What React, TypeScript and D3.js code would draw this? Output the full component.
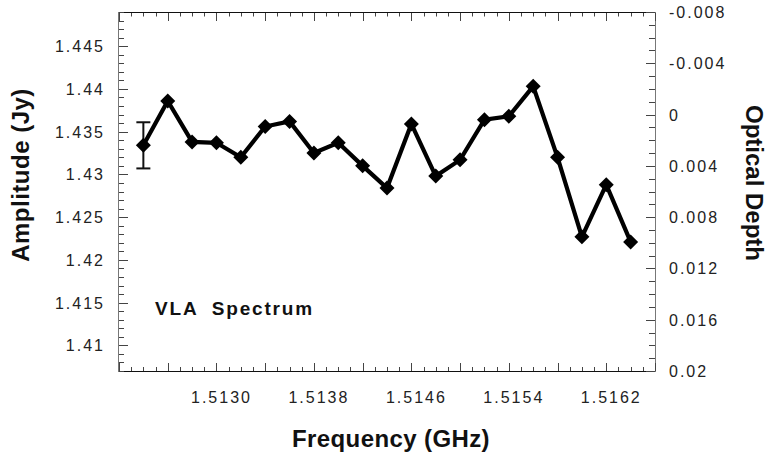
import React from "react";
import * as d3 from "d3";

const frequencies = [
  1.5124, 1.5126, 1.5128, 1.513, 1.5132, 1.5134, 1.5136, 1.5138, 1.514, 1.5142,
  1.5144, 1.5146, 1.5148, 1.515, 1.5152, 1.5154, 1.5156, 1.5158, 1.516, 1.5162,
  1.5164,
];
const amplitudes = [
  1.4334, 1.4386, 1.4338, 1.4337, 1.432, 1.4356, 1.4362, 1.4325, 1.4337, 1.431,
  1.4284, 1.4359, 1.4298, 1.4317, 1.4364, 1.4368, 1.4403, 1.432, 1.4227, 1.4288,
  1.4221,
];
const errorBarIndex = [0];
const errorBarSize = [0.0027];

const leftTicks = [1.41, 1.415, 1.42, 1.425, 1.43, 1.435, 1.44, 1.445];
const leftTickLabels = ["1.41", "1.415", "1.42", "1.425", "1.43", "1.435", "1.44", "1.445"];
const rightTicks = [-0.008, -0.004, 0, 0.004, 0.008, 0.012, 0.016, 0.02];
const rightTickLabels = ["-0.008", "-0.004", "0", "0.004", "0.008", "0.012", "0.016", "0.02"];
const bottomTicks = [1.513, 1.5138, 1.5146, 1.5154, 1.5162];
const bottomTickLabels = ["1.5130", "1.5138", "1.5146", "1.5154", "1.5162"];

const W = 770;
const H = 459;
const L = 119;
const R = 655;
const T = 12;
const B = 371;

const FONT = "'Liberation Sans', Arial, Helvetica, sans-serif";

export default function App() {
  const x = d3.scaleLinear().domain([1.5122, 1.5166]).range([L, R]);
  const y = d3.scaleLinear().domain([1.407, 1.449]).range([B, T]);
  const y2 = d3.scaleLinear().domain([-0.008, 0.02]).range([T, B]);

  const pts: [number, number][] = frequencies.map((f, i) => [x(f), y(amplitudes[i])]);
  const line = d3.line()(pts) || "";

  const leftMinor = d3.range(0, 43).map((k) => 1.407 + k * 0.001);
  const rightMinor = d3.range(0, 29).map((k) => -0.008 + k * 0.001);
  const xMinor = d3.range(0, 45).map((k) => 1.5122 + k * 0.0001);

  const isMajor = (v: number, step: number) => Math.abs(v / step - Math.round(v / step)) < 1e-6;

  const tickColor = "#444";
  const diamond = (cx: number, cy: number, r: number) =>
    `M${cx},${cy - r}L${cx + r},${cy}L${cx},${cy + r}L${cx - r},${cy}Z`;

  return (
    <svg width={W} height={H} style={{ position: "absolute", left: 0, top: 0, background: "#fff" }}>
      <rect x={0} y={0} width={W} height={H} fill="#fff" />
      {/* frame */}
      <line x1={L} y1={T + 0.5} x2={R} y2={T + 0.5} stroke="#111" strokeWidth={1} />
      <line x1={L} y1={B + 0.5} x2={R} y2={B + 0.5} stroke="#111" strokeWidth={1} />
      <line x1={L - 0.5} y1={T} x2={L - 0.5} y2={B + 1} stroke="#777" strokeWidth={1} />
      <line x1={R + 0.5} y1={T} x2={R + 0.5} y2={B + 1} stroke="#777" strokeWidth={1} />

      {/* left ticks */}
      {leftMinor.map((v, i) => {
        const yy = Math.round(y(v)) + 0.5;
        const major = isMajor(v - 1.41, 0.005) && v > 1.408;
        return <line key={"l" + i} x1={L} x2={L + (major ? 9 : 5)} y1={yy} y2={yy} stroke={tickColor} />;
      })}
      {/* right ticks */}
      {rightMinor.map((v, i) => {
        const yy = Math.round(y2(v)) + 0.5;
        const major = isMajor(v, 0.004);
        return <line key={"r" + i} x1={R} x2={R - (major ? 9 : 6)} y1={yy} y2={yy} stroke={tickColor} />;
      })}
      {/* bottom & top ticks */}
      {xMinor.map((v, i) => {
        const xx = Math.round(x(v)) + 0.5;
        const major = isMajor(v - 1.5122, 0.0004);
        return (
          <g key={"x" + i}>
            <line x1={xx} x2={xx} y1={B} y2={B - (major ? 8 : 4)} stroke={tickColor} />
            <line x1={xx} x2={xx} y1={T + 1} y2={T + 1 + (major ? 8 : 3.5)} stroke={tickColor} />
          </g>
        );
      })}

      {/* tick labels */}
      <g fontFamily={FONT} fontSize={16} fill="#222" letterSpacing={2}>
        {leftTicks.map((v, i) => (
          <text key={"lt" + i} x={105} y={y(v) + 6} textAnchor="end">
            {leftTickLabels[i]}
          </text>
        ))}
        {rightTicks.map((v, i) => (
          <text key={"rt" + i} x={669} y={y2(v) + 6} textAnchor="start">
            {rightTickLabels[i]}
          </text>
        ))}
        {bottomTicks.map((v, i) => (
          <text key={"bt" + i} x={x(v) + 5} y={403} textAnchor="middle">
            {bottomTickLabels[i]}
          </text>
        ))}
      </g>

      {/* axis titles */}
      <g fontFamily={FONT} fontWeight="bold" fontSize={24} fill="#111">
        <text transform={`translate(29,175) rotate(-90)`} textAnchor="middle" letterSpacing={0.5}>
          Amplitude (Jy)
        </text>
        <text transform={`translate(746,183) rotate(90)`} textAnchor="middle">
          Optical Depth
        </text>
        <text x={391} y={447} textAnchor="middle" letterSpacing={0.4}>
          Frequency (GHz)
        </text>
      </g>

      {/* annotation */}
      <text
        x={155}
        y={315}
        fontFamily={FONT}
        fontWeight="bold"
        fontSize={19}
        fill="#111"
        letterSpacing={1.8}
        style={{ whiteSpace: "pre" }}
      >
        {"VLA  Spectrum"}
      </text>

      {/* error bar */}
      {errorBarIndex.map((idx, k) => {
        const cx = x(frequencies[idx]);
        const yTop = y(amplitudes[idx] + errorBarSize[k]);
        const yBot = y(amplitudes[idx] - errorBarSize[k]);
        return (
          <g key={"e" + k} stroke="#111" strokeWidth={2}>
            <line x1={cx} x2={cx} y1={yTop} y2={yBot} />
            <line x1={cx - 7} x2={cx + 7} y1={yTop} y2={yTop} />
            <line x1={cx - 7} x2={cx + 7} y1={yBot} y2={yBot} />
          </g>
        );
      })}

      {/* data line */}
      <path d={line} fill="none" stroke="#000" strokeWidth={4.2} strokeLinejoin="miter" />
      {pts.map(([px, py], i) => (
        <path key={"m" + i} d={diamond(px, py, 7.5)} fill="#000" />
      ))}
    </svg>
  );
}
